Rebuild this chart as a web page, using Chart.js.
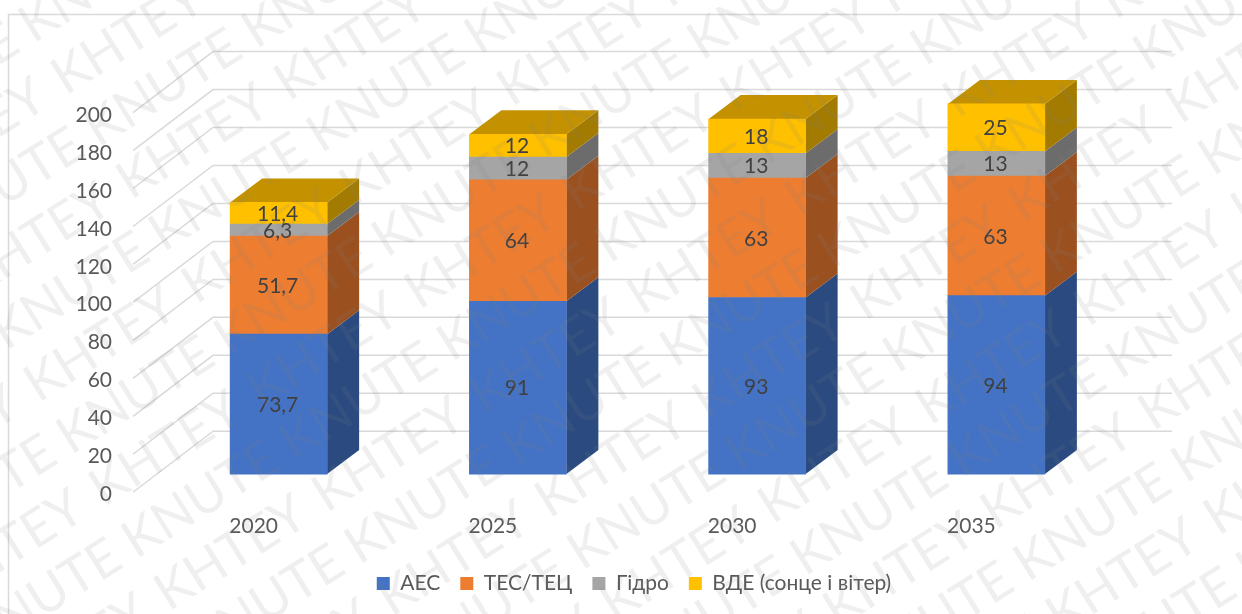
<!DOCTYPE html>
<html lang="uk">
<head>
<meta charset="utf-8">
<title>Chart</title>
<script src="https://cdn.jsdelivr.net/npm/chart.js@4/dist/chart.umd.js"></script>
<style>
  html, body { margin: 0; padding: 0; background: #fff; }
  canvas { display: block; }
</style>
</head>
<body>
<canvas id="chart" width="1242" height="614"></canvas>
<script>
const years = ["2020", "2025", "2030", "2035"];
const aes = [73.7, 91, 93, 94];
const tes = [51.7, 64, 63, 63];
const hydro = [6.3, 12, 13, 13];
const res = [11.4, 12, 18, 25];
const yTickValues = [0, 20, 40, 60, 80, 100, 120, 140, 160, 180, 200];
const watermarkWords = ["KNUTE", "KHTEY"];

const FONT = "Lato, 'Noto Sans', sans-serif";
const DEPTH_X = 32;
const DEPTH_Y = 24;
const WALL_LEFT = 213;
const WALL_RIGHT = 1172;
const sideColours = ["#2a4a80", "#9a501f", "#6c6c6c", "#a37b00"];
const TOP_COLOUR = "#c49200";

// back wall grid + the diagonals on the left side
const wallPlugin = {
  id: "wall",
  beforeDatasetsDraw(chart) {
    const { ctx, scales } = chart;
    ctx.save();
    ctx.strokeStyle = "#d9d9d9";
    ctx.lineWidth = 1.5;
    ctx.strokeRect(8.5, 14.5, 1300, 700); // chart frame, runs off the right and bottom
    yTickValues.forEach((v) => {
      const y = scales.yWall.getPixelForValue(v);
      ctx.beginPath();
      ctx.moveTo(WALL_RIGHT, y);
      ctx.lineTo(WALL_LEFT, y);
      ctx.lineTo(WALL_LEFT - 80, y + 61);
      ctx.stroke();
    });
    ctx.restore();
  },
};

// side and top faces of the columns, taken from the bar elements
const depthPlugin = {
  id: "depth",
  beforeDatasetsDraw(chart) {
    const { ctx } = chart;
    ctx.save();
    chart.data.datasets.forEach((ds, di) => {
      chart.getDatasetMeta(di).data.forEach((bar) => {
        const right = bar.x + bar.width / 2;
        const left = bar.x - bar.width / 2;
        ctx.fillStyle = sideColours[di];
        ctx.beginPath();
        ctx.moveTo(right, bar.y);
        ctx.lineTo(right + DEPTH_X, bar.y - DEPTH_Y);
        ctx.lineTo(right + DEPTH_X, bar.base - DEPTH_Y);
        ctx.lineTo(right, bar.base);
        ctx.closePath();
        ctx.fill();
        if (di === chart.data.datasets.length - 1) {
          ctx.fillStyle = TOP_COLOUR;
          ctx.beginPath();
          ctx.moveTo(left, bar.y);
          ctx.lineTo(left + DEPTH_X, bar.y - DEPTH_Y);
          ctx.lineTo(right + DEPTH_X, bar.y - DEPTH_Y);
          ctx.lineTo(right, bar.y);
          ctx.closePath();
          ctx.fill();
        }
      });
    });
    ctx.restore();
  },
};

const valueLabelPlugin = {
  id: "valueLabels",
  afterDatasetsDraw(chart) {
    const { ctx } = chart;
    ctx.save();
    ctx.font = "21px " + FONT;
    ctx.fillStyle = "#404040";
    ctx.textAlign = "center";
    ctx.textBaseline = "middle";
    chart.data.datasets.forEach((ds, di) => {
      chart.getDatasetMeta(di).data.forEach((bar, i) => {
        const text = String(ds.data[i]).replace(".", ",");
        ctx.fillText(text, bar.x - 1, (bar.y + bar.base) / 2 + 1);
      });
    });
    ctx.restore();
  },
};

// rows alternate one word each, lined up at a fixed step along the slant
const watermarkPlugin = {
  id: "watermark",
  afterDraw(chart) {
    const { ctx } = chart;
    ctx.save();
    ctx.font = "52px " + FONT;
    ctx.fillStyle = "rgba(130,130,130,0.13)";
    ctx.textBaseline = "middle";
    ctx.rotate((-32 * Math.PI) / 180);
    for (let row = -17; row <= 3; row++) {
      const word = watermarkWords[Math.abs(row) % 2];
      for (let col = -7; col <= 2; col++) {
        ctx.fillText(word, 749 + col * 186, 1022 + row * 61.5);
      }
    }
    ctx.restore();
  },
};

new Chart(document.getElementById("chart"), {
  type: "bar",
  data: {
    labels: years,
    datasets: [
      { label: "АЕС", data: aes, backgroundColor: "#4472c4" },
      { label: "ТЕС/ТЕЦ", data: tes, backgroundColor: "#ed7d31" },
      { label: "Гідро", data: hydro, backgroundColor: "#a5a5a5" },
      { label: "ВДЕ (сонце і вітер)", data: res, backgroundColor: "#ffc000" },
    ],
  },
  plugins: [wallPlugin, depthPlugin, valueLabelPlugin, watermarkPlugin],
  options: {
    responsive: false,
    animation: false,
    barThickness: 97,
    layout: { padding: { top: 50, left: 26, bottom: 10, right: 0 } },
    plugins: {
      tooltip: { enabled: false },
      legend: {
        position: "bottom",
        labels: {
          boxWidth: 13,
          boxHeight: 13,
          padding: 20,
          color: "#595959",
          font: { family: FONT, size: 21 },
        },
      },
    },
    scales: {
      x: {
        stacked: true,
        grid: { display: false },
        border: { display: false },
        ticks: {
          color: "#595959",
          font: { family: FONT, size: 21 },
          labelOffset: -25,
          padding: 12,
        },
        afterFit: function (scaleInstance) {
          scaleInstance.height = 59;
        },
      },
      // the columns stand on a floor above the axis labels, so each of these has its own range
      y: {
        stacked: true,
        position: "right",
        min: -10.5,
        max: 222.57,
        grid: { display: false },
        border: { display: false },
        ticks: { display: false },
        afterFit: function (scaleInstance) {
          scaleInstance.width = 126;
        },
      },
      yWall: { display: false, min: -33.07, max: 200 },
      yTicks: {
        position: "left",
        min: 0,
        max: 233.68,
        grid: { display: false },
        border: { display: false },
        afterBuildTicks: function (scaleInstance) {
          scaleInstance.ticks = yTickValues.map((v) => ({ value: v }));
        },
        ticks: {
          color: "#595959",
          font: { family: FONT, size: 21 },
          padding: 39,
        },
        afterFit: function (scaleInstance) {
          scaleInstance.width = 133;
        },
      },
    },
  },
});
</script>
</body>
</html>
